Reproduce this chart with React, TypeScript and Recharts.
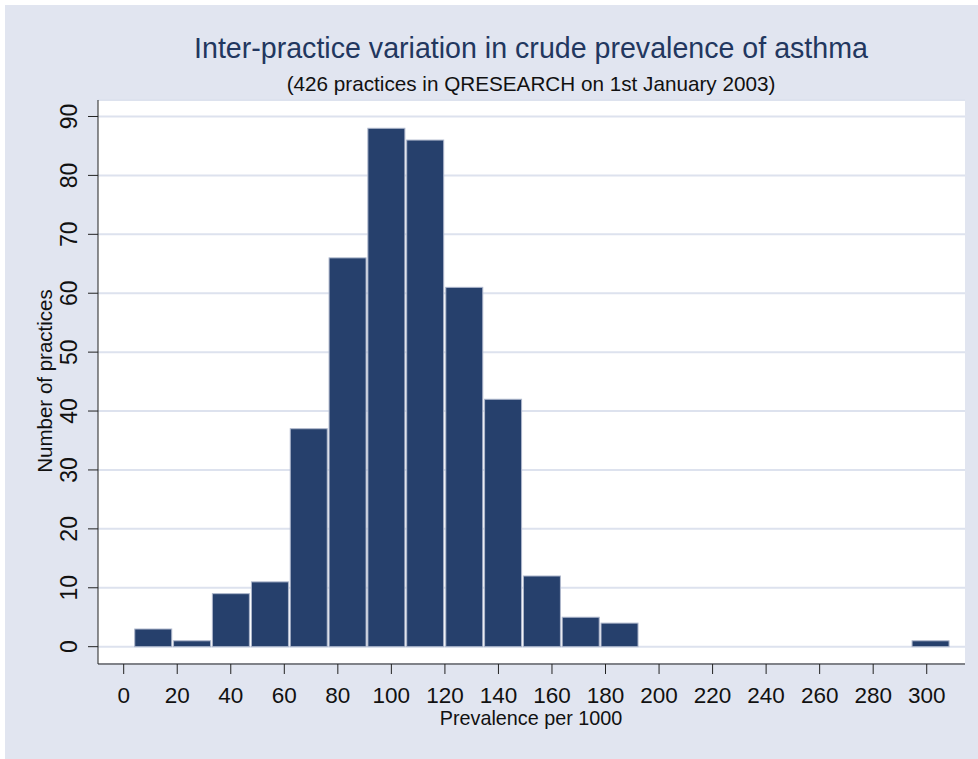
import { ComposedChart, Bar, XAxis, YAxis, CartesianGrid } from 'recharts'

// histogram bins (midpoints, prevalence per 1000) and practice counts
const binMids = [11.0, 25.5, 40.0, 54.6, 69.1, 83.6, 98.1, 112.6, 127.2, 141.7, 156.2, 170.7, 185.2, 199.8, 214.3, 228.8, 243.3, 257.8, 272.4, 286.9, 301.4]
const counts = [3, 1, 9, 11, 37, 66, 88, 86, 61, 42, 12, 5, 4, 0, 0, 0, 0, 0, 0, 0, 1]

const xTicks = [0, 20, 40, 60, 80, 100, 120, 140, 160, 180, 200, 220, 240, 260, 280, 300]
const yTicks = [0, 10, 20, 30, 40, 50, 60, 70, 80, 90]

const TITLE = 'Inter-practice variation in crude prevalence of asthma'
const SUBTITLE = '(426 practices in QRESEARCH on 1st January 2003)'
const X_LABEL = 'Prevalence per 1000'
const Y_LABEL = 'Number of practices'

const FONT = '"Liberation Sans", Arial, sans-serif'
const NAVY = '#26406c'
const BG = '#e1e5f0'

const data = binMids.map((mid, i) => ({ mid, count: counts[i] }))

const HistBar = (props: any) => {
  const { x, y, width, height } = props
  if (!width || !height || Math.abs(height) < 0.5) return null
  const top = height < 0 ? y + height : y
  const h = Math.abs(height)
  return (
    <rect x={x + 1} y={top} width={width - 2} height={h}
      fill={NAVY} stroke="#aeb7cc" strokeWidth={1} />
  )
}

const YTick = (props: any) => {
  const { y, payload } = props
  const tx = 77
  return (
    <text x={tx} y={y} transform={`rotate(-90 ${tx} ${y})`} textAnchor="middle"
      fontSize={23} fontFamily={FONT} fill="#111">
      {payload.value}
    </text>
  )
}

const XTick = (props: any) => {
  const { x, payload } = props
  return (
    <text x={x} y={703} textAnchor="middle" fontSize={22.5} fontFamily={FONT} fill="#111">
      {payload.value}
    </text>
  )
}

export default function App() {
  return (
    <div style={{ position: 'absolute', left: 0, top: 0, width: 978, height: 759, background: '#fff' }}>
      <div style={{ position: 'absolute', left: 5, top: 5, right: 0, bottom: 0, background: BG }} />
      <div style={{ position: 'absolute', left: 0, top: 0 }}>
        <ComposedChart width={978} height={759} data={data}
          margin={{ top: 100, right: 13, bottom: 35, left: 58 }}
          barCategoryGap={0} barGap={0}>
          <CartesianGrid vertical={false} fill="#ffffff" stroke="#dde2ee" strokeWidth={2} />
          <XAxis
            dataKey="mid"
            type="number"
            domain={[-9.6, 314.3]}
            ticks={xTicks}
            allowDataOverflow
            height={60}
            tickSize={10}
            stroke="#222"
            tick={<XTick />}
          />
          <YAxis
            type="number"
            domain={[-2.94, 92.8]}
            ticks={yTicks}
            allowDataOverflow
            width={40}
            tickSize={10}
            stroke="#222"
            tick={<YTick />}
          />
          <Bar dataKey="count" shape={<HistBar />} isAnimationActive={false} />
        </ComposedChart>
      </div>
      <svg width={978} height={759} style={{ position: 'absolute', left: 0, top: 0, pointerEvents: 'none' }}>
        <text x={531} y={58} textAnchor="middle" fontSize={28.6} fontFamily={FONT} fill="#22375f">{TITLE}</text>
        <text x={531} y={91} textAnchor="middle" fontSize={20.7} fontFamily={FONT} fill="#111">{SUBTITLE}</text>
        <text x={531} y={725} textAnchor="middle" fontSize={19.8} fontFamily={FONT} fill="#111">{X_LABEL}</text>
        <text x={51.5} y={381} transform="rotate(-90 51.5 381)" textAnchor="middle" fontSize={20.5} fontFamily={FONT} fill="#111">{Y_LABEL}</text>
      </svg>
    </div>
  )
}
